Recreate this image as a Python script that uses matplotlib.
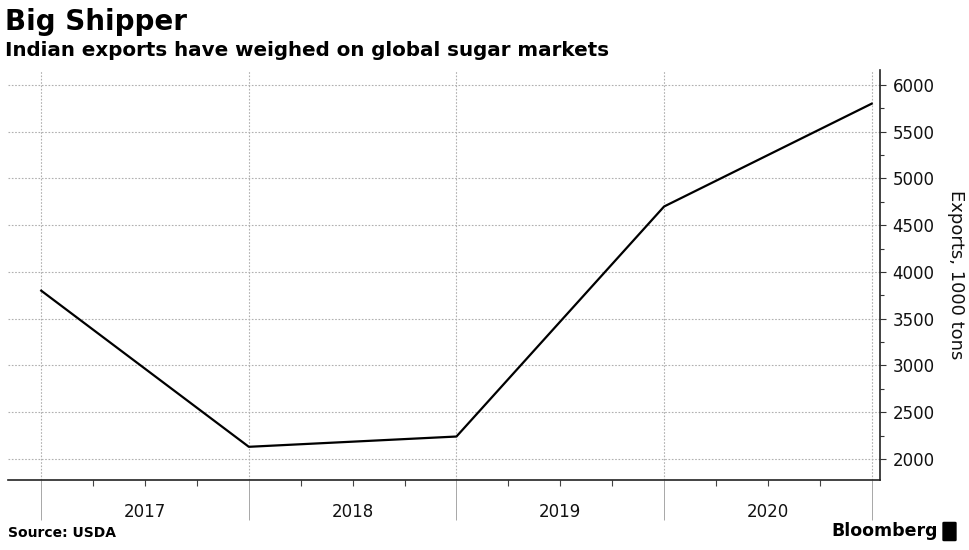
import matplotlib
matplotlib.use('Agg')
import matplotlib.pyplot as plt
import matplotlib.transforms as mtransforms
import matplotlib.patches as mpatches
from matplotlib.ticker import MultipleLocator

# data (exports, 1000 tons), one point per year boundary
years = [2017, 2018, 2019, 2020, 2021]
exports = [3800, 2130, 2240, 4700, 5800]
year_labels = ['2017', '2018', '2019', '2020']

fig = plt.figure(figsize=(9.7, 5.5), dpi=100)
fig.patch.set_facecolor('white')
ax = fig.add_axes([8 / 970, 70 / 550, 872 / 970, 410 / 550])

ax.plot(years, exports, color='black', lw=1.6, zorder=3)

ax.set_xlim(2016.84, 2021.04)
ax.set_ylim(1775, 6160)

# spines
for s in ['top', 'left']:
    ax.spines[s].set_visible(False)
for s in ['bottom', 'right']:
    ax.spines[s].set_color('#222222')
    ax.spines[s].set_linewidth(1.2)

# y axis on the right
ax.yaxis.tick_right()
ax.yaxis.set_label_position('right')
ax.yaxis.set_major_locator(MultipleLocator(500))
ax.yaxis.set_minor_locator(MultipleLocator(250))
ax.tick_params(axis='y', which='major', length=4, width=0.8, color='#333333',
               labelsize=12, pad=5, labelcolor='#111111')
ax.tick_params(axis='y', which='minor', length=3, width=0.8, color='#333333')
ax.set_ylabel('Exports, 1000 tons', rotation=270, fontsize=13, labelpad=22,
              color='#111111')

# x axis: long gray ticks at year boundaries, short ticks at quarters
ax.xaxis.set_major_locator(MultipleLocator(1))
ax.xaxis.set_minor_locator(MultipleLocator(0.25))
ax.tick_params(axis='x', which='major', length=29, width=0.6, color='#999999',
               labelbottom=False)
ax.tick_params(axis='x', which='minor', length=4, width=0.8, color='#444444')

trans = mtransforms.blended_transform_factory(ax.transData, ax.transAxes)
for y, lbl in zip(years[:-1], year_labels):
    ax.text(y + 0.5, -0.078, lbl, transform=trans, ha='center', va='center',
            fontsize=12, color='#111111')

# dotted grid
ax.grid(True, which='major', axis='both', color='#b0b0b0', lw=0.8,
        linestyle=(0, (1.5, 1.5)))
ax.set_axisbelow(True)

# titles
fig.text(5 / 970, 1 - 22 / 550, 'Big Shipper', fontsize=20, fontweight='bold',
         ha='left', va='center', color='black')
fig.text(5 / 970, 1 - 51 / 550, 'Indian exports have weighed on global sugar markets',
         fontsize=14.3, fontweight='bold', ha='left', va='center', color='black')

# footer
fig.text(8 / 970, 1 - 533 / 550, 'Source: USDA', fontsize=10, fontweight='bold',
         ha='left', va='center')
fig.text(938 / 970, 1 - 531 / 550, 'Bloomberg', fontsize=12.5, fontweight='bold',
         ha='right', va='center')
fig.patches.append(mpatches.FancyBboxPatch((944 / 970, 1 - 540 / 550), 11 / 970, 17 / 550,
                                           boxstyle='round,pad=0.001', transform=fig.transFigure,
                                           facecolor='black', edgecolor='black'))

fig.savefig('out.png', dpi=100, facecolor='white')
